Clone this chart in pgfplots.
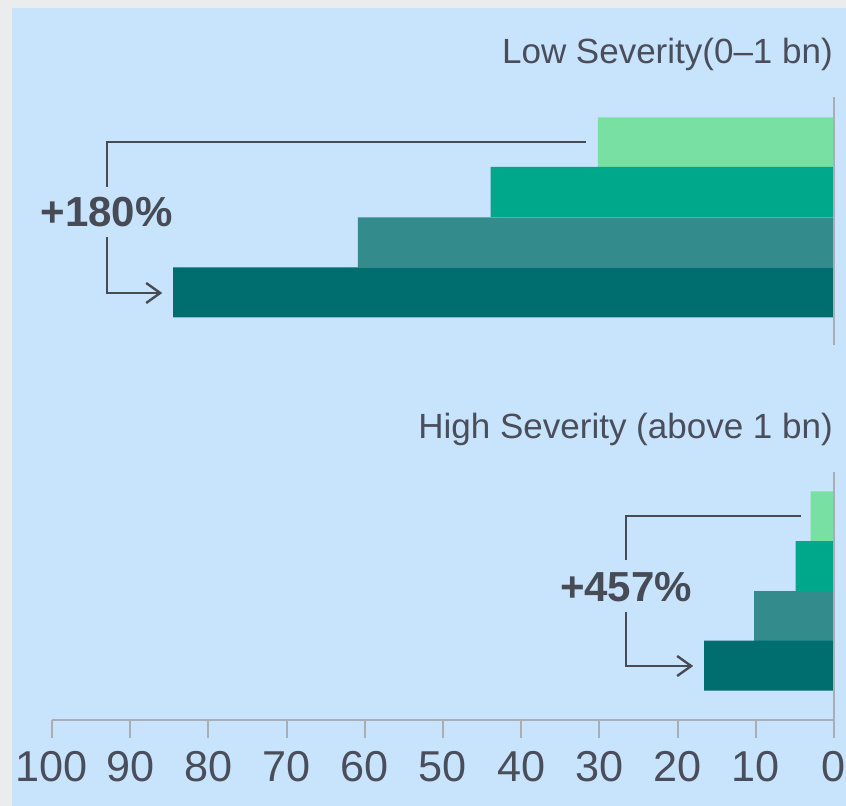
\documentclass[border=0pt]{standalone}
\usepackage{pgfplots}
\pgfplotsset{compat=1.18}
\usepackage{fontspec}
\setmainfont{Liberation Sans}
\usetikzlibrary{arrows.meta}
\definecolor{bgout}{HTML}{EBECEE}
\definecolor{bgblue}{HTML}{C8E3FC}
\definecolor{cA}{HTML}{79E0A3}
\definecolor{cB}{HTML}{00A88B}
\definecolor{cC}{HTML}{348B8C}
\definecolor{cD}{HTML}{006D6F}
\definecolor{txt}{HTML}{4A4E5B}
\definecolor{axgray}{HTML}{A9AEB5}
\definecolor{anno}{HTML}{474B56}
\begin{document}
\begin{tikzpicture}
\useasboundingbox (-26pt,-43pt) rectangle (397pt,360pt);
\fill[bgout] (-26pt,-43pt) rectangle (397pt,360pt);
\fill[bgblue] (-20pt,-43pt) rectangle (397pt,356pt);
\begin{axis}[
  at={(0,0)}, anchor=south west,
  scale only axis, width=391pt, height=356pt,
  xmin=0, xmax=100, x dir=reverse,
  ymin=8, ymax=720, y dir=reverse,
  axis x line=bottom, axis y line=none,
  x axis line style={-, draw=axgray, line width=1pt},
  xtick={0,10,...,100},
  tick align=outside,
  major tick length=9pt,
  tick style={draw=axgray, line width=1pt},
  xticklabel style={font=\fontsize{21.6}{22}\selectfont, text=txt, yshift=-3pt},
  /pgf/number format/assume math mode=true,
  clip=false,
]
\addplot[xbar, bar width=50, bar shift=0pt, fill=cA, draw=none] coordinates {(30.2,142.5) (3.0,516.5)};
\addplot[xbar, bar width=50, bar shift=0pt, fill=cB, draw=none] coordinates {(43.9,192) (4.9,566)};
\addplot[xbar, bar width=50, bar shift=0pt, fill=cC, draw=none] coordinates {(60.9,242.5) (10.2,616)};
\addplot[xbar, bar width=50, bar shift=0pt, fill=cD, draw=none] coordinates {(84.5,292.5) (16.6,665.5)};
\draw[axgray, line width=1pt] (axis cs:0,97) -- (axis cs:0,345);
\draw[axgray, line width=1pt] (axis cs:0,472) -- (axis cs:0,720);
\node[anchor=east, text=txt, font=\fontsize{17.5}{18}\selectfont, inner sep=0pt] at (axis cs:0.1,54) {Low Severity(0--1 bn)};
\node[anchor=east, text=txt, font=\fontsize{17.5}{18}\selectfont, inner sep=0pt] at (axis cs:0.1,429) {High Severity (above 1 bn)};
\draw[anno, line width=1.2pt] (axis cs:31.7,142) -- (axis cs:93.0,142) -- (axis cs:93.0,187);
\draw[anno, line width=1.2pt, -{Straight Barb[length=7pt,width=10pt]}] (axis cs:93.0,237) -- (axis cs:93.0,293) -- (axis cs:85.9,293);
\node[text=anno, font=\bfseries\fontsize{21}{21}\selectfont] at (axis cs:93.0,212) {+180\%};
\draw[anno, line width=1.2pt] (axis cs:4.2,516) -- (axis cs:26.6,516) -- (axis cs:26.6,560);
\draw[anno, line width=1.2pt, -{Straight Barb[length=7pt,width=10pt]}] (axis cs:26.6,612) -- (axis cs:26.6,666) -- (axis cs:18.0,666);
\node[text=anno, font=\bfseries\fontsize{21}{21}\selectfont] at (axis cs:26.6,587) {+457\%};
\end{axis}
\end{tikzpicture}
\end{document}
